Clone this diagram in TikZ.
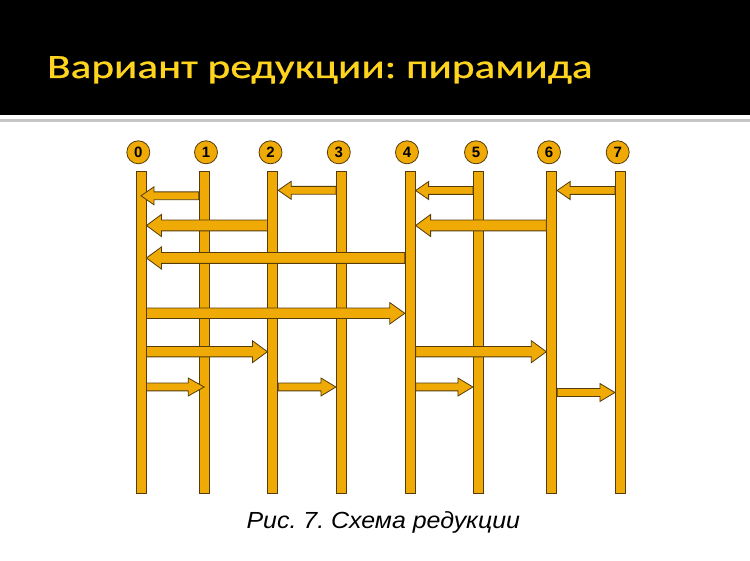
\documentclass[tikz,border=0pt]{standalone}
\usepackage{fontspec}
\setmainfont{Liberation Sans}
\newfontfamily\titlefont[FakeStretch=1.27,FakeBold=0.8]{Carlito}
\newfontfamily\capfont[FakeStretch=1.07]{Liberation Sans}
\frenchspacing
\usetikzlibrary{calc}
\definecolor{lanefill}{RGB}{240,170,5}
\definecolor{laneedge}{RGB}{85,60,10}
\definecolor{titleyellow}{RGB}{255,212,30}
\tikzset{
  lane/.style={rectangle,fill=lanefill,draw=laneedge,line width=0.8pt,minimum width=10,minimum height=322,inner sep=0,anchor=north},
  num/.style={circle,fill=lanefill,draw=laneedge,line width=0.8pt,minimum size=23,inner sep=0,font=\fontsize{15}{15}\selectfont\bfseries},
  arr/.style={fill=lanefill,draw=laneedge,line width=0.8pt}
}
% block arrow: tail, tip, y, shaft half, head half, head length
\newcommand{\blockarrow}[6]{%
  \draw[arr] let \p1=(#1 |- 0,#3), \p2=(#2 |- 0,#3), \n1={\x2-sign(\x2-\x1)*#6}
    in (\x1,\y1-#4) -- (\n1,\y1-#4) -- (\n1,\y1-#5) -- (\x2,\y1)
    -- (\n1,\y1+#5) -- (\n1,\y1+#4) -- (\x1,\y1+#4) -- cycle;
}
\begin{document}
\begin{tikzpicture}[x=1pt,y=-1pt,line join=miter]
\useasboundingbox (0,0) rectangle (750,561);
\fill[black] (0,0) rectangle (750,115);
\fill[gray!45] (0,119.5) rectangle (750,122);
\node[anchor=base west,inner sep=0,text=titleyellow,font=\titlefont\fontsize{34}{40}\selectfont] (title) at (47,78) {Вариант редукции: пирамида};
% lanes and their numbers
\foreach \i/\x/\c in {0/141/138.3,1/204.2/206,2/272.8/270.5,3/341.3/338.8,4/410.2/407,5/478.3/476,6/551.7/549,7/620.3/617.7}{
  \node[lane] (b\i) at (\x,171) {};
  \node[num] (n\i) at (\c,152.3) {\i};
}
% up sweep
\blockarrow{b1.west}{b0}{195.8}{3.9pt}{9pt}{13pt}
\blockarrow{b3.west}{b2.east}{190.3}{3.9pt}{9pt}{13pt}
\blockarrow{b5.west}{b4.east}{190.5}{3.9pt}{9pt}{13pt}
\blockarrow{b7.west}{b6.east}{190.5}{3.9pt}{9pt}{13pt}
\blockarrow{b2.west}{b0.east}{225.5}{5.4pt}{11pt}{15pt}
\blockarrow{b6.west}{b4.east}{225.5}{5.4pt}{11pt}{15pt}
\blockarrow{b4.west}{b0.east}{258}{5.4pt}{11pt}{15pt}
% down sweep
\blockarrow{b0.east}{b4.west}{313.3}{5.2pt}{10.7pt}{15pt}
\blockarrow{b0.east}{b2.west}{351.7}{5.2pt}{11pt}{15pt}
\blockarrow{b4.east}{b6.west}{351.7}{5.2pt}{11pt}{15pt}
\blockarrow{b0.east}{b1}{387}{3.9pt}{9pt}{16pt}
\blockarrow{b2.east}{b3.west}{387}{3.9pt}{9pt}{15pt}
\blockarrow{b4.east}{b5.west}{387}{3.9pt}{9pt}{15pt}
\blockarrow{b6.east}{b7.west}{392.5}{3.9pt}{9pt}{15pt}
\node[anchor=base,inner sep=0,font=\capfont\itshape\fontsize{23.3}{27}\selectfont] (caption) at (383.3,528.3) {Рис. 7. Схема редукции};
\end{tikzpicture}
\end{document}
